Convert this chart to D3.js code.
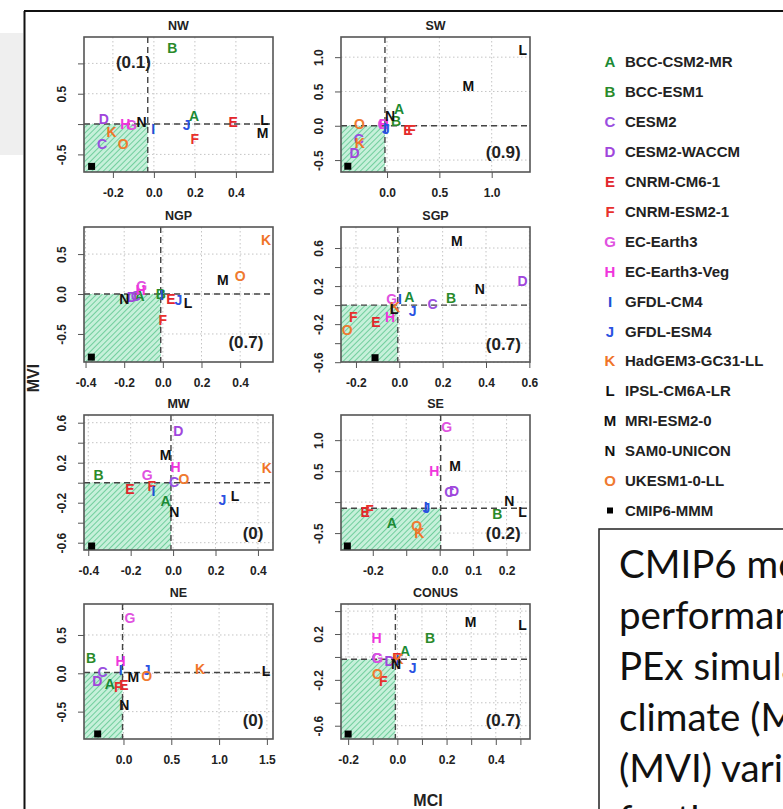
<!DOCTYPE html>
<html>
<head>
<meta charset="utf-8">
<script src="https://d3js.org/d3.v7.min.js"></script>
<style>
  body { margin: 0; background: #fff; }
  svg { display: block; }
  text { font-family: "Liberation Sans", Arial, sans-serif; font-weight: bold; }
</style>
</head>
<body>
<svg width="783" height="809"></svg>
<script>
// model codes, names and colours
var codes = ["A","B","C","D","E","F","G","H","I","J","K","L","M","N","O"]
var models = ["BCC-CSM2-MR","BCC-ESM1","CESM2","CESM2-WACCM","CNRM-CM6-1","CNRM-ESM2-1",
  "EC-Earth3","EC-Earth3-Veg","GFDL-CM4","GFDL-ESM4","HadGEM3-GC31-LL","IPSL-CM6A-LR",
  "MRI-ESM2-0","SAM0-UNICON","UKESM1-0-LL"]
var colors = ["#1b8a35","#2a8a2a","#9a4fe0","#a046dc","#e2262c","#e8302c","#e052e0","#f035dc",
  "#2050d4","#2b52e2","#f07428","#111111","#111111","#111111","#ef7a30"]

var regions = ["NW","SW","NGP","SGP","MW","SE","NE","CONUS"]
var scores = ["(0.1)","(0.9)","(0.7)","(0.7)","(0)","(0.2)","(0)","(0.7)"]

// MCI (x) and MVI (y) per region, models A..O
var NW_mci = [0.196,0.09,-0.253,-0.244,0.387,0.2,-0.11,-0.14,-0.003,0.16,-0.206,0.54,0.53,-0.06,-0.15]
var NW_mvi = [0.13,1.25,-0.33,0.088,0.03,-0.24,-0.01,0.01,-0.076,-0.02,-0.13,0.06,-0.14,0.03,-0.33]
var SW_mci = [0.115,0.086,-0.27,-0.31,0.2,0.235,-0.04,-0.03,-0.02,-0.01,-0.26,1.296,0.777,0.03,-0.264]
var SW_mvi = [0.248,0.07,-0.186,-0.39,-0.06,-0.06,0.03,0.02,-0.03,-0.05,-0.25,1.106,0.575,0.15,0.02]
var NGP_mci = [-0.12,-0.01,-0.14,-0.16,0.042,0.0,-0.11,-0.115,-0.005,0.08,0.534,0.13,0.31,-0.2,0.4]
var NGP_mvi = [-0.03,0.0,-0.02,-0.04,-0.06,-0.33,0.1,0.05,-0.01,-0.07,0.675,-0.115,0.17,-0.06,0.23]
var SGP_mci = [0.046,0.239,0.154,0.569,-0.108,-0.212,-0.035,-0.043,0.003,0.062,-0.02,-0.024,0.265,0.372,-0.24]
var SGP_mvi = [0.09,0.076,0.01,0.249,-0.175,-0.122,0.066,-0.129,0.066,-0.058,-0.02,-0.04,0.676,0.17,-0.263]
var MW_mci = [-0.035,-0.351,0.004,0.025,-0.203,-0.101,-0.122,0.012,-0.093,0.232,0.442,0.292,-0.035,0.006,0.051]
var MW_mvi = [-0.179,0.073,0.012,0.516,-0.062,-0.028,0.08,0.156,-0.079,-0.169,0.146,-0.129,0.281,-0.297,0.039]
var SE_mci = [-0.143,0.172,0.029,0.043,-0.223,-0.21,0.021,-0.016,-0.042,-0.04,-0.061,0.248,0.046,0.208,-0.069]
var SE_mvi = [-0.329,-0.193,0.159,0.187,-0.166,-0.122,1.216,0.5,-0.085,-0.1,-0.491,-0.155,0.582,0.024,-0.383]
var NE_mci = [-0.142,-0.34,-0.218,-0.275,0.005,-0.055,0.067,-0.03,-0.03,0.242,0.8,1.49,0.102,0.008,0.242]
var NE_mvi = [-0.143,0.203,0.021,-0.1,-0.153,-0.175,0.725,0.16,0.043,0.043,0.056,0.03,-0.044,-0.413,-0.031]
var CONUS_mci = [0.031,0.133,-0.084,-0.032,-0.002,-0.057,-0.08,-0.085,0.0,0.062,0.005,0.509,0.298,-0.005,-0.081]
var CONUS_mvi = [0.051,0.168,-0.012,-0.036,-0.007,-0.21,-0.005,0.17,-0.03,-0.094,-0.02,0.278,0.307,-0.065,-0.149]

// CMIP6 multi-model mean [MCI, MVI]
var mmm = [[-0.304,-0.698],[-0.375,-0.59],[-0.37,-0.79],[-0.112,-0.553],
  [-0.384,-0.633],[-0.276,-0.708],[-0.27,-0.791],[-0.2,-0.673]]

// position of the score label [MCI, MVI]
var scoreAt = [[-0.1,1.03],[1.11,-0.38],[0.43,-0.6],[0.48,-0.405],
  [0.377,-0.5],[0.19,-0.491],[1.355,-0.609],[0.43,-0.55]]

// reference lines (vertical MCI, horizontal MVI)
var vlines = [-0.03,-0.02,-0.011,-0.007,-0.01,0.003,-0.01,-0.008]
var hlines = [0.0,0.0,0.0,0.0,0.0,-0.1,0.01,-0.02]

// axis ranges
var xLims = [[-0.341,0.581],[-0.44,1.366],[-0.408,0.57],[-0.269,0.603],
  [-0.42,0.471],[-0.295,0.27],[-0.413,1.564],[-0.229,0.539]]
var yLims = [[-0.79,1.435],[-0.674,1.294],[-0.851,0.839],[-0.598,0.821],
  [-0.673,0.677],[-0.773,1.406],[-0.857,0.904],[-0.716,0.462]]

var xTicks = [[-0.2,0,0.2,0.4],[0,0.5,1],[-0.4,-0.2,0,0.2,0.4],[-0.2,0,0.2,0.4,0.6],
  [-0.4,-0.2,0,0.2,0.4],[-0.2,-0.1,0,0.1,0.2],[0,0.5,1,1.5],[-0.2,-0.1,0,0.1,0.2,0.3,0.4,0.5]]
var xLabels = [[-0.2,0,0.2,0.4],[0,0.5,1],[-0.4,-0.2,0,0.2,0.4],[-0.2,0,0.2,0.4,0.6],
  [-0.4,-0.2,0,0.2,0.4],[-0.2,0,0.1,0.2],[0,0.5,1,1.5],[-0.2,0,0.2,0.4]]
var yTicks = [[-0.5,0,0.5,1],[-0.5,0,0.5,1],[-0.5,0,0.5],[-0.6,-0.4,-0.2,0,0.2,0.4,0.6],
  [-0.6,-0.4,-0.2,0,0.2,0.4,0.6],[-0.5,0,0.5,1],[-0.5,0,0.5],[-0.6,-0.4,-0.2,0,0.2,0.4]]
var yLabels = [[-0.5,0.5],[-0.5,0,0.5,1],[-0.5,0,0.5],[-0.6,-0.2,0.2,0.6],
  [-0.6,-0.2,0.2,0.6],[-0.5,0.5,1],[-0.5,0,0.5],[-0.6,-0.2,0.2]]

var noteLines = ["CMIP6 model","performance in","PEx simulation","climate (MCI) and","(MVI) variability","for the"]

var mciAll = [NW_mci,SW_mci,NGP_mci,SGP_mci,MW_mci,SE_mci,NE_mci,CONUS_mci]
var mviAll = [NW_mvi,SW_mvi,NGP_mvi,SGP_mvi,MW_mvi,SE_mvi,NE_mvi,CONUS_mvi]

var svg = d3.select('svg')

// slide background bits
svg.append('rect').attr('x',0).attr('y',33).attr('width',23).attr('height',122).attr('fill','#efefef')
svg.append('line').attr('x1',24).attr('y1',11).attr('x2',783).attr('y2',11).attr('stroke','#111').attr('stroke-width',2)
svg.append('line').attr('x1',24.5).attr('y1',11).attr('x2',24.5).attr('y2',809).attr('stroke','#111').attr('stroke-width',2)

// hatch pattern
var defs = svg.append('defs')
var pat = defs.append('pattern').attr('id','hatch').attr('patternUnits','userSpaceOnUse')
  .attr('width',4).attr('height',4).attr('patternTransform','rotate(45)')
pat.append('rect').attr('width',4).attr('height',4).attr('fill','#c6f0da')
pat.append('line').attr('x1',0).attr('y1',0).attr('x2',0).attr('y2',4)
  .attr('stroke','#38b874').attr('stroke-width',1.2)

var colLeft = [84, 341]
var rowTop = [37, 227, 415, 604]
var W = 189, H = 135

function fmt(v) { return v.toFixed(1) }

regions.forEach(function(reg, i) {
  var left = colLeft[i % 2], top = rowTop[Math.floor(i / 2)]
  var x = d3.scaleLinear().domain(xLims[i]).range([0, W])
  var y = d3.scaleLinear().domain(yLims[i]).range([H, 0])
  var g = svg.append('g').attr('transform', 'translate(' + left + ',' + top + ')')

  // grid
  g.selectAll('.gx').data(xTicks[i]).enter().append('line')
    .attr('x1', d => x(d)).attr('x2', d => x(d)).attr('y1', 0).attr('y2', H)
    .attr('stroke', '#c4c4c4').attr('stroke-dasharray', '1.5,2.5')
  g.selectAll('.gy').data(yTicks[i]).enter().append('line')
    .attr('y1', d => y(d)).attr('y2', d => y(d)).attr('x1', 0).attr('x2', W)
    .attr('stroke', '#c4c4c4').attr('stroke-dasharray', '1.5,2.5')

  // hatched "good" quadrant
  g.append('rect')
    .attr('x', 0).attr('y', y(hlines[i]))
    .attr('width', x(vlines[i])).attr('height', H - y(hlines[i]))
    .attr('fill', 'url(#hatch)')

  // reference lines
  g.append('line').attr('x1', x(vlines[i])).attr('x2', x(vlines[i])).attr('y1', 0).attr('y2', H)
    .attr('stroke', '#444').attr('stroke-width', 1.4).attr('stroke-dasharray', '6,4')
  g.append('line').attr('y1', y(hlines[i])).attr('y2', y(hlines[i])).attr('x1', 0).attr('x2', W)
    .attr('stroke', '#444').attr('stroke-width', 1.4).attr('stroke-dasharray', '6,4')

  // axes
  var xa = g.append('g').attr('transform', 'translate(0,' + H + ')')
    .call(d3.axisBottom(x).tickValues(xTicks[i]).tickSize(6)
      .tickFormat(d => xLabels[i].includes(d) ? fmt(d) : ''))
  xa.select('.domain').remove()
  xa.selectAll('line').attr('stroke', '#555')
  xa.selectAll('text').attr('y', 25).attr('dy', 0).attr('font-size', 12).attr('fill', '#222')

  var ya = g.append('g')
    .call(d3.axisLeft(y).tickValues(yTicks[i]).tickSize(6)
      .tickFormat(d => yLabels[i].includes(d) ? fmt(d) : ''))
  ya.select('.domain').remove()
  ya.selectAll('line').attr('stroke', '#555')
  ya.selectAll('text').attr('x', 0).attr('y', -18).attr('dy', 0)
    .attr('transform', 'rotate(-90)').attr('text-anchor', 'middle')
    .attr('font-size', 12).attr('fill', '#222')

  // box
  g.append('rect').attr('width', W).attr('height', H)
    .attr('fill', 'none').attr('stroke', '#555').attr('stroke-width', 1.6)

  // title
  g.append('text').attr('x', W / 2).attr('y', -7).attr('text-anchor', 'middle')
    .attr('font-size', 12.5).attr('fill', '#222').text(reg)

  // models
  g.selectAll('.m').data(codes).enter().append('text')
    .attr('x', (d, k) => x(mciAll[i][k]))
    .attr('y', (d, k) => y(mviAll[i][k]))
    .attr('dy', '0.36em').attr('text-anchor', 'middle')
    .attr('font-size', 14).attr('fill', (d, k) => colors[k])
    .text(d => d)

  // multi-model mean
  g.append('rect').attr('x', x(mmm[i][0]) - 3.5).attr('y', y(mmm[i][1]) - 3.5)
    .attr('width', 7).attr('height', 7).attr('fill', '#000')

  // score
  g.append('text').attr('x', x(scoreAt[i][0])).attr('y', y(scoreAt[i][1]))
    .attr('dy', '0.36em').attr('text-anchor', 'middle')
    .attr('font-size', 17).attr('fill', '#222').text(scores[i])
})

// axis titles
svg.append('text').attr('x', 428).attr('y', 806).attr('text-anchor', 'middle')
  .attr('font-size', 16).attr('fill', '#222').text('MCI')
svg.append('text').attr('transform', 'translate(39,378) rotate(-90)').attr('text-anchor', 'middle')
  .attr('font-size', 16).attr('fill', '#222').text('MVI')

// legend
var leg = svg.append('g')
codes.forEach(function(c, k) {
  leg.append('text').attr('x', 610).attr('y', 62 + k * 29.9).attr('dy', '0.36em')
    .attr('text-anchor', 'middle').attr('font-size', 15).attr('fill', colors[k]).text(c)
  leg.append('text').attr('x', 625).attr('y', 62 + k * 29.9).attr('dy', '0.36em')
    .attr('font-size', 15).attr('fill', '#222').text(models[k])
})
leg.append('rect').attr('x', 607).attr('y', 62 + 15 * 29.9 - 3).attr('width', 6).attr('height', 6).attr('fill', '#000')
leg.append('text').attr('x', 625).attr('y', 62 + 15 * 29.9).attr('dy', '0.36em')
  .attr('font-size', 15).attr('fill', '#222').text('CMIP6-MMM')

// note box
svg.append('rect').attr('x', 599).attr('y', 529).attr('width', 220).attr('height', 320)
  .attr('fill', '#fff').attr('stroke', '#222').attr('stroke-width', 1.5)
svg.selectAll('.note').data(noteLines).enter().append('text')
  .attr('x', 619).attr('y', (d, k) => 578 + k * 51)
  .style('font-family', 'Lato, "Open Sans", sans-serif').style('font-weight', 'normal')
  .attr('font-size', 38.5).attr('fill', '#111').text(d => d)
</script>
</body>
</html>
